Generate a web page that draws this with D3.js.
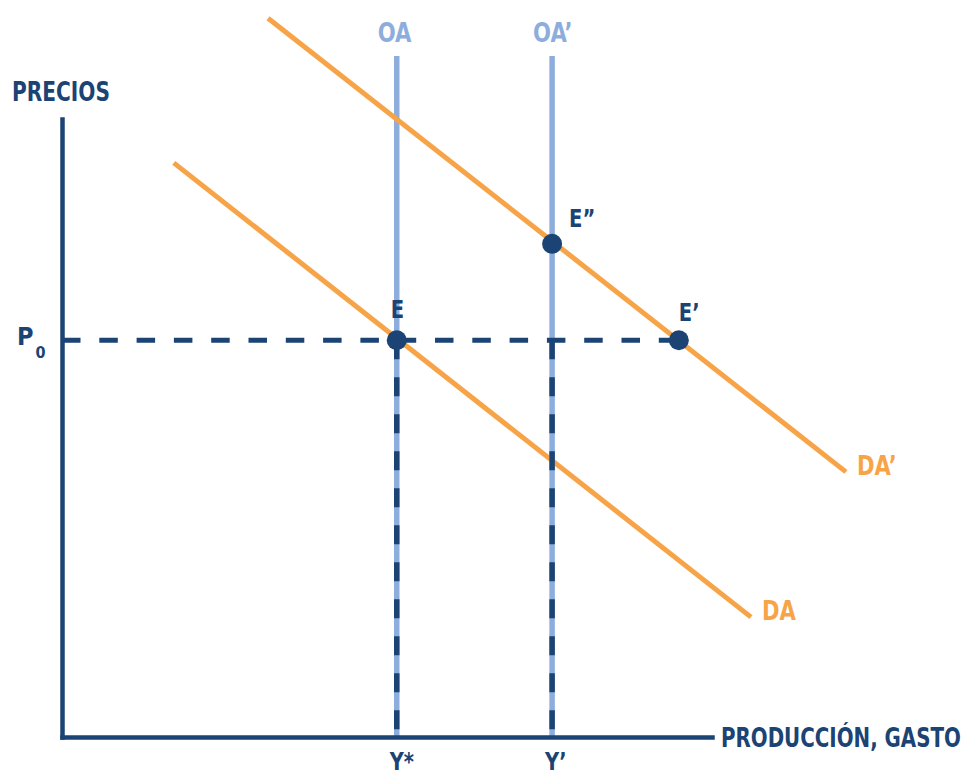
<!DOCTYPE html>
<html>
<head>
<meta charset="utf-8">
<script src="https://cdn.jsdelivr.net/npm/d3@7"></script>
<style>
  html, body { margin: 0; padding: 0; background: #ffffff; }
  svg { display: block; }
  text { font-family: "Liberation Sans Narrow", "DejaVu Sans Condensed", "Roboto", sans-serif; font-weight: bold; }
</style>
</head>
<body>
<svg id="chart" width="969" height="776"></svg>
<script>
// ---------- data (economic units, axes run 0..100) ----------
const axisLabels = ["PRECIOS", "PRODUCCIÓN, GASTO"];
const supplyNames = ["OA", "OA’"];
const supplyX = [51.5, 75.4];          // vertical aggregate supply curves
const supplyTop = 110.2;
const outputTicks = ["Y*", "Y’"];       // tick labels under supply curves
const priceLevel = 64.2;               // P0
const priceLabel = "P";
const priceSub = "0";
const demandNames = ["DA", "DA’"];
const demandX0 = [17.2, 31.7];
const demandY0 = [92.9, 116.3];
const demandX1 = [106.0, 120.6];
const demandY1 = [19.4, 42.9];
const pointNames = ["E", "E”", "E’"];
const pointX = [51.5, 75.4, 94.9];
const pointY = [64.2, 79.8, 64.2];

// ---------- styles ----------
const DARK = "#1b4373";
const LIGHT = "#8daedd";
const ORANGE = "#f7a448";
const SQUEEZE = 0.87;   // narrow the available condensed font toward the reference face

function squeeze(sel, factor) {
  sel.each(function () {
    const w = this.getComputedTextLength();
    if (w > 0) {
      d3.select(this).attr("textLength", w * factor).attr("lengthAdjust", "spacingAndGlyphs");
    }
  });
}

// place a text at (px, py) and squeeze it horizontally to a target width with a transform
function fitWidth(sel, px, py, width) {
  sel.attr("x", 0).attr("y", 0);
  const w = sel.node().getComputedTextLength();
  const k = w > 0 ? Math.min(1, width / w) : 1;
  sel.attr("transform", `translate(${px},${py}) scale(${k},1)`);
}

const svg = d3.select("#chart");
const x = d3.scaleLinear().domain([0, 100]).range([62, 712]);
const y = d3.scaleLinear().domain([0, 100]).range([737, 119]);

// supply curves (light blue)
svg.selectAll("line.oa").data(supplyX).join("line")
  .attr("class", "oa")
  .attr("x1", d => x(d)).attr("x2", d => x(d))
  .attr("y1", y(supplyTop)).attr("y2", y(0))
  .attr("stroke", LIGHT).attr("stroke-width", 5.5);

svg.selectAll("text.oa").data(supplyNames).join("text")
  .attr("class", "oa")
  .attr("x", (d, i) => x(supplyX[i]) - 19)
  .attr("y", 42)
  .attr("fill", LIGHT)
  .attr("font-size", 27)
  .text(d => d)
  .call(squeeze, SQUEEZE);

// demand curves (orange)
svg.selectAll("line.da").data(demandNames).join("line")
  .attr("class", "da")
  .attr("x1", (d, i) => x(demandX0[i])).attr("y1", (d, i) => y(demandY0[i]))
  .attr("x2", (d, i) => x(demandX1[i])).attr("y2", (d, i) => y(demandY1[i]))
  .attr("stroke", ORANGE).attr("stroke-width", 5);

svg.selectAll("text.da").data(demandNames).join("text")
  .attr("class", "da")
  .attr("x", (d, i) => x(demandX1[i]) + 11)
  .attr("y", (d, i) => y(demandY1[i]) + 3)
  .attr("fill", ORANGE)
  .attr("font-size", 27)
  .text(d => d)
  .call(squeeze, SQUEEZE);

// dashed guides
svg.append("line")
  .attr("x1", x(0)).attr("x2", x(pointX[2]))
  .attr("y1", y(priceLevel)).attr("y2", y(priceLevel))
  .attr("stroke", DARK).attr("stroke-width", 5)
  .attr("stroke-dasharray", "18.5,18.8");

svg.selectAll("line.vdash").data(supplyX).join("line")
  .attr("class", "vdash")
  .attr("x1", d => x(d)).attr("x2", d => x(d))
  .attr("y1", y(priceLevel)).attr("y2", y(0))
  .attr("stroke", DARK).attr("stroke-width", 5.5)
  .attr("stroke-dasharray", "19,18");

// axes
const yAxis = d3.axisLeft(y).tickValues([]).tickSizeOuter(0);
const xAxis = d3.axisBottom(x).tickValues([]).tickSizeOuter(0);
const gy = svg.append("g").attr("transform", `translate(${x(0)},0)`).call(yAxis);
const gx = svg.append("g").attr("transform", `translate(0,${y(0)})`).call(xAxis);
[gy, gx].forEach(g => g.select(".domain").attr("stroke", DARK).attr("stroke-width", 4.5).attr("stroke-linecap", "square"));

svg.append("text")
  .attr("fill", DARK).attr("font-size", 26)
  .text(axisLabels[0])
  .call(fitWidth, 12, 101, 98);
svg.append("text")
  .attr("fill", DARK).attr("font-size", 26)
  .text(axisLabels[1])
  .call(fitWidth, 721, 747, 240);

// P0 label
const pLab = svg.append("text")
  .attr("x", 17).attr("y", y(priceLevel) + 5)
  .attr("fill", DARK).attr("font-size", 25);
pLab.append("tspan").text(priceLabel);
pLab.append("tspan").attr("font-size", 16).attr("dx", 2).attr("dy", 13).text(priceSub);

// output tick labels
svg.selectAll("text.yt").data(outputTicks).join("text")
  .attr("class", "yt")
  .attr("x", (d, i) => x(supplyX[i]) - 7)
  .attr("y", 770)
  .attr("fill", DARK).attr("font-size", 24)
  .text(d => d)
  .call(squeeze, 0.9);

// equilibrium points
svg.selectAll("circle.pt").data(pointNames).join("circle")
  .attr("class", "pt")
  .attr("cx", (d, i) => x(pointX[i])).attr("cy", (d, i) => y(pointY[i]))
  .attr("r", 10).attr("fill", DARK);

const labOff = [[-6, -22], [17, -17], [0, -19]];
svg.selectAll("text.pt").data(pointNames).join("text")
  .attr("class", "pt")
  .attr("x", (d, i) => x(pointX[i]) + labOff[i][0])
  .attr("y", (d, i) => y(pointY[i]) + labOff[i][1])
  .attr("fill", DARK).attr("font-size", 25)
  .text(d => d)
  .call(squeeze, SQUEEZE);
</script>
</body>
</html>
